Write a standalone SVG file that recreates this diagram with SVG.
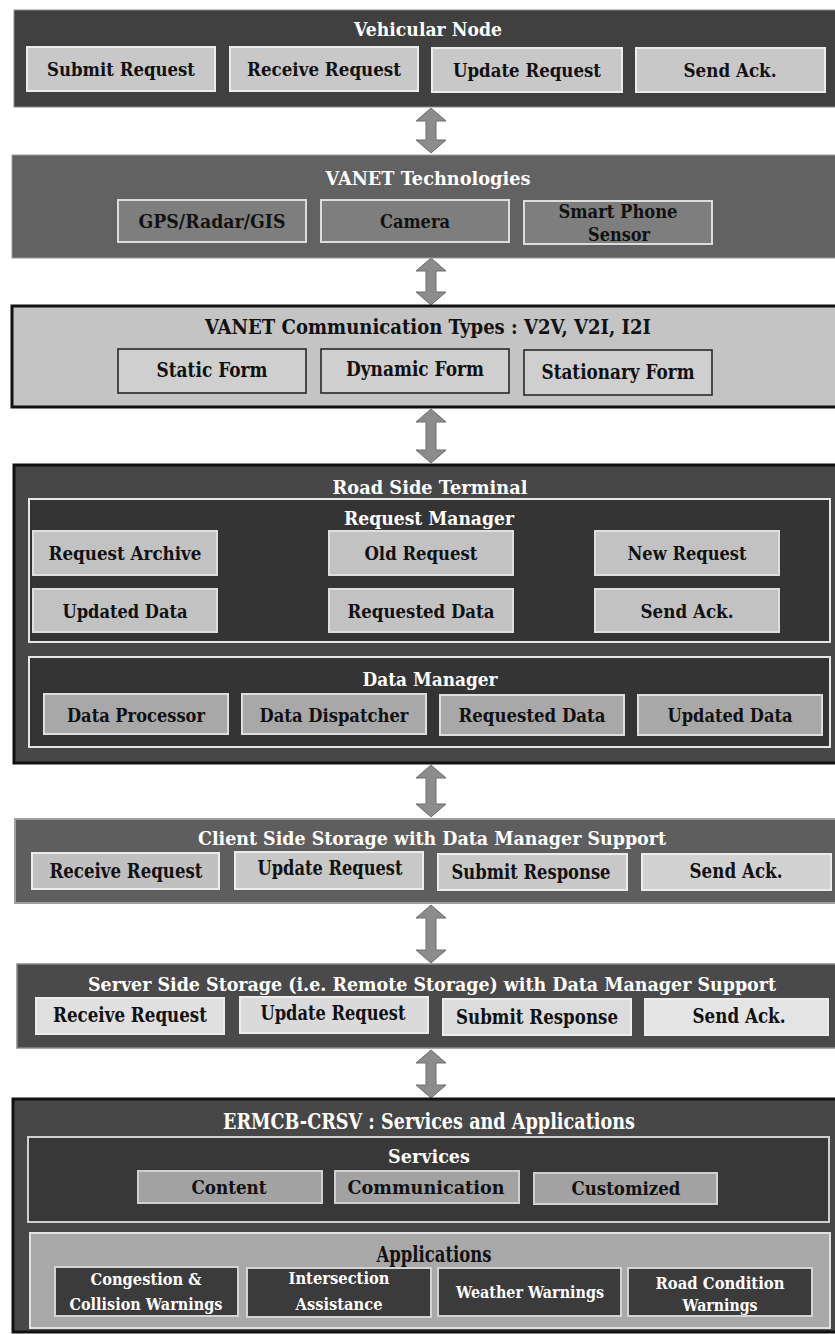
<svg xmlns="http://www.w3.org/2000/svg" width="835" height="1334" viewBox="0 0 835 1334">
<style>
  text { font-family: "DejaVu Serif", "Liberation Serif", serif; font-weight: bold; text-anchor: middle; }
  .t { font-size: 19px; fill: #ffffff; }
  .d { font-size: 19px; fill: #111111; }
  .w { font-size: 17px; fill: #ffffff; }
  .c { font-size: 20px; }
  .arrow { fill: #8c8c8c; stroke: #6e6e6e; stroke-width: 1; }
  .lbox { fill: #c8c8c8; stroke: #ececec; stroke-width: 2; }
  .gbox { fill: #7e7e7e; stroke: #dcdcdc; stroke-width: 2; }
  .cbox { fill: #cfcfcf; stroke: #1e1e1e; stroke-width: 1.5; }
  .rbox { fill: #c2c2c2; stroke: #dedede; stroke-width: 2; }
  .mbox { fill: #a8a8a8; stroke: #dedede; stroke-width: 2; }
  .inner { fill: #343434; stroke: #e6e6e6; stroke-width: 2; }
  .sbox { fill: #a2a2a2; stroke: #d0d0d0; stroke-width: 2; }
  .abox { fill: #3b3b3b; stroke: #d4d4d4; stroke-width: 2; }
</style>
<rect width="835" height="1334" fill="#ffffff"/>

<!-- connectors: double-headed block arrows between layers -->
<g id="connectors">
  <path class="arrow" d="M431,108 L446,121 L436,121 L436,140 L446,140 L431,153 L416,140 L426,140 L426,121 L416,121 Z"/>
  <path class="arrow" d="M431,258 L446,271 L436,271 L436,292 L446,292 L431,305 L416,292 L426,292 L426,271 L416,271 Z"/>
  <path class="arrow" d="M431,409 L446,422 L436,422 L436,450 L446,450 L431,463 L416,450 L426,450 L426,422 L416,422 Z"/>
  <path class="arrow" d="M431,765 L446,778 L436,778 L436,804 L446,804 L431,817 L416,804 L426,804 L426,778 L416,778 Z"/>
  <path class="arrow" d="M431,905 L446,918 L436,918 L436,950 L446,950 L431,963 L416,950 L426,950 L426,918 L416,918 Z"/>
  <path class="arrow" d="M431,1050 L446,1063 L436,1063 L436,1085 L446,1085 L431,1098 L416,1085 L426,1085 L426,1063 L416,1063 Z"/>
</g>

<!-- Vehicular Node -->
<g id="vehicular-node">
  <rect x="14" y="10" width="824" height="97" fill="#404040" stroke="#8a8a8a" stroke-width="1"/>
  <text class="t" x="428" y="36" textLength="148" lengthAdjust="spacingAndGlyphs">Vehicular Node</text>
  <g id="vn-submit"><rect class="lbox" x="27" y="47" width="188" height="44"/><text class="d" x="121" y="76" textLength="148" lengthAdjust="spacingAndGlyphs">Submit Request</text></g>
  <g id="vn-receive"><rect class="lbox" x="230" y="47" width="188" height="44"/><text class="d" x="324" y="76" textLength="154" lengthAdjust="spacingAndGlyphs">Receive Request</text></g>
  <g id="vn-update"><rect class="lbox" x="432" y="48" width="190" height="44"/><text class="d" x="527" y="77" textLength="148" lengthAdjust="spacingAndGlyphs">Update Request</text></g>
  <g id="vn-ack"><rect class="lbox" x="636" y="48" width="189" height="44"/><text class="d" x="730" y="77" textLength="93" lengthAdjust="spacingAndGlyphs">Send Ack.</text></g>
</g>

<!-- VANET Technologies -->
<g id="vanet-technologies">
  <rect x="12" y="155" width="826" height="103" fill="#626262" stroke="#9a9a9a" stroke-width="1"/>
  <text class="t" x="428" y="185" textLength="205" lengthAdjust="spacingAndGlyphs">VANET Technologies</text>
  <g id="vt-gps"><rect class="gbox" x="118" y="200" width="188" height="42"/><text class="d" x="212" y="228" textLength="147" lengthAdjust="spacingAndGlyphs">GPS/Radar/GIS</text></g>
  <g id="vt-camera"><rect class="gbox" x="321" y="200" width="188" height="42"/><text class="d" x="415" y="228" textLength="70" lengthAdjust="spacingAndGlyphs">Camera</text></g>
  <g id="vt-phone"><rect class="gbox" x="524" y="201" width="188" height="43"/>
    <text class="d" x="618" y="218" textLength="119" lengthAdjust="spacingAndGlyphs">Smart Phone</text>
    <text class="d" x="619" y="241" textLength="62" lengthAdjust="spacingAndGlyphs">Sensor</text></g>
</g>

<!-- VANET Communication Types -->
<g id="communication-types">
  <rect x="12" y="306" width="826" height="101" fill="#c4c4c4" stroke="#111111" stroke-width="3"/>
  <text class="d c" x="428" y="334" textLength="446" lengthAdjust="spacingAndGlyphs">VANET Communication Types : V2V, V2I, I2I</text>
  <g id="ct-static"><rect class="cbox" x="118" y="349" width="188" height="44"/><text class="d c" x="212" y="377" textLength="111" lengthAdjust="spacingAndGlyphs">Static Form</text></g>
  <g id="ct-dynamic"><rect class="cbox" x="321" y="349" width="188" height="44"/><text class="d c" x="415" y="376" textLength="138" lengthAdjust="spacingAndGlyphs">Dynamic Form</text></g>
  <g id="ct-stationary"><rect class="cbox" x="524" y="350" width="188" height="45"/><text class="d c" x="618" y="379" textLength="153" lengthAdjust="spacingAndGlyphs">Stationary Form</text></g>
</g>

<!-- Road Side Terminal -->
<g id="road-side-terminal">
  <rect x="14" y="465" width="824" height="298" fill="#474747" stroke="#111111" stroke-width="3"/>
  <text class="t" x="430" y="494" textLength="195" lengthAdjust="spacingAndGlyphs">Road Side Terminal</text>
  <g id="request-manager">
    <rect class="inner" x="29" y="499" width="801" height="143"/>
    <text class="t" x="429" y="525" textLength="170" lengthAdjust="spacingAndGlyphs">Request Manager</text>
    <g id="rm-archive"><rect class="rbox" x="33" y="531" width="184" height="44"/><text class="d" x="125" y="560" textLength="153" lengthAdjust="spacingAndGlyphs">Request Archive</text></g>
    <g id="rm-old"><rect class="rbox" x="329" y="531" width="184" height="44"/><text class="d" x="421" y="560" textLength="113" lengthAdjust="spacingAndGlyphs">Old Request</text></g>
    <g id="rm-new"><rect class="rbox" x="595" y="531" width="184" height="44"/><text class="d" x="687" y="560" textLength="119" lengthAdjust="spacingAndGlyphs">New Request</text></g>
    <g id="rm-updated"><rect class="rbox" x="33" y="589" width="184" height="43"/><text class="d" x="125" y="618" textLength="125" lengthAdjust="spacingAndGlyphs">Updated Data</text></g>
    <g id="rm-requested"><rect class="rbox" x="329" y="589" width="184" height="43"/><text class="d" x="421" y="618" textLength="147" lengthAdjust="spacingAndGlyphs">Requested Data</text></g>
    <g id="rm-ack"><rect class="rbox" x="595" y="589" width="184" height="43"/><text class="d" x="687" y="618" textLength="93" lengthAdjust="spacingAndGlyphs">Send Ack.</text></g>
  </g>
  <g id="data-manager">
    <rect class="inner" x="29" y="657" width="801" height="90"/>
    <text class="t" x="430" y="686" textLength="135" lengthAdjust="spacingAndGlyphs">Data Manager</text>
    <g id="dm-processor"><rect class="mbox" x="44" y="694" width="184" height="40"/><text class="d" x="136" y="722" textLength="138" lengthAdjust="spacingAndGlyphs">Data Processor</text></g>
    <g id="dm-dispatcher"><rect class="mbox" x="242" y="694" width="184" height="40"/><text class="d" x="334" y="722" textLength="149" lengthAdjust="spacingAndGlyphs">Data Dispatcher</text></g>
    <g id="dm-requested"><rect class="mbox" x="440" y="695" width="184" height="40"/><text class="d" x="532" y="722" textLength="147" lengthAdjust="spacingAndGlyphs">Requested Data</text></g>
    <g id="dm-updated"><rect class="mbox" x="638" y="695" width="184" height="40"/><text class="d" x="730" y="722" textLength="125" lengthAdjust="spacingAndGlyphs">Updated Data</text></g>
  </g>
</g>

<!-- Client Side Storage -->
<g id="client-side-storage">
  <rect x="15" y="819" width="823" height="84" fill="#5e5e5e" stroke="#a0a0a0" stroke-width="2"/>
  <text class="t" x="432" y="845" textLength="468" lengthAdjust="spacingAndGlyphs">Client Side Storage with Data Manager Support</text>
  <g id="cs-receive"><rect class="lbox" x="32" y="853" width="187" height="36" style="fill:#c0c0c0"/><text class="d c" x="126" y="878" textLength="153" lengthAdjust="spacingAndGlyphs">Receive Request</text></g>
  <g id="cs-update"><rect class="lbox" x="235" y="852" width="188" height="37"/><text class="d c" x="330" y="875" textLength="145" lengthAdjust="spacingAndGlyphs">Update Request</text></g>
  <g id="cs-submit"><rect class="lbox" x="438" y="854" width="189" height="36"/><text class="d c" x="531" y="879" textLength="159" lengthAdjust="spacingAndGlyphs">Submit Response</text></g>
  <g id="cs-ack"><rect class="lbox" x="642" y="854" width="189" height="36" style="fill:#d2d2d2"/><text class="d c" x="736" y="878" textLength="93" lengthAdjust="spacingAndGlyphs">Send Ack.</text></g>
</g>

<!-- Server Side Storage -->
<g id="server-side-storage">
  <rect x="17" y="964" width="821" height="84" fill="#4a4a4a" stroke="#8a8a8a" stroke-width="1.5"/>
  <text class="t" x="432" y="991" textLength="688" lengthAdjust="spacingAndGlyphs">Server Side Storage (i.e. Remote Storage) with Data Manager Support</text>
  <g id="ss-receive"><rect class="lbox" x="36" y="998" width="188" height="36" style="fill:#e0e0e0"/><text class="d c" x="130" y="1022" textLength="154" lengthAdjust="spacingAndGlyphs">Receive Request</text></g>
  <g id="ss-update"><rect class="lbox" x="240" y="997" width="188" height="36" style="fill:#dadada"/><text class="d c" x="333" y="1020" textLength="145" lengthAdjust="spacingAndGlyphs">Update Request</text></g>
  <g id="ss-submit"><rect class="lbox" x="443" y="999" width="188" height="36" style="fill:#dcdcdc"/><text class="d c" x="537" y="1024" textLength="162" lengthAdjust="spacingAndGlyphs">Submit Response</text></g>
  <g id="ss-ack"><rect class="lbox" x="645" y="999" width="183" height="36" style="fill:#e4e4e4"/><text class="d c" x="739" y="1023" textLength="93" lengthAdjust="spacingAndGlyphs">Send Ack.</text></g>
</g>

<!-- ERMCB-CRSV Services and Applications -->
<g id="ermcb-crsv">
  <rect x="13" y="1099" width="825" height="233" fill="#474747" stroke="#111111" stroke-width="3"/>
  <text class="t" x="429" y="1129" style="font-size:22px" textLength="412" lengthAdjust="spacingAndGlyphs">ERMCB-CRSV : Services and Applications</text>
  <g id="services">
    <rect x="28" y="1137" width="801" height="85" fill="#383838" stroke="#d0d0d0" stroke-width="2"/>
    <text class="t" x="429" y="1163" textLength="82" lengthAdjust="spacingAndGlyphs">Services</text>
    <g id="sv-content"><rect class="sbox" x="138" y="1171" width="184" height="32"/><text class="d" x="229" y="1194" textLength="75" lengthAdjust="spacingAndGlyphs">Content</text></g>
    <g id="sv-communication"><rect class="sbox" x="335" y="1171" width="184" height="32"/><text class="d" x="426" y="1194" textLength="157" lengthAdjust="spacingAndGlyphs">Communication</text></g>
    <g id="sv-customized"><rect class="sbox" x="534" y="1173" width="183" height="31"/><text class="d" x="626" y="1195" textLength="109" lengthAdjust="spacingAndGlyphs">Customized</text></g>
  </g>
  <g id="applications">
    <rect x="30" y="1233" width="800" height="95" fill="#a8a8a8" stroke="#e2e2e2" stroke-width="2"/>
    <text class="d" x="434" y="1262" style="font-size:22px" textLength="115" lengthAdjust="spacingAndGlyphs">Applications</text>
    <g id="ap-congestion"><rect class="abox" x="55" y="1267" width="183" height="49"/>
      <text class="w" x="146" y="1285" textLength="111" lengthAdjust="spacingAndGlyphs">Congestion &amp;</text>
      <text class="w" x="146" y="1310" textLength="153" lengthAdjust="spacingAndGlyphs">Collision Warnings</text></g>
    <g id="ap-intersection"><rect class="abox" x="247" y="1268" width="184" height="49"/>
      <text class="w" x="339" y="1284" textLength="101" lengthAdjust="spacingAndGlyphs">Intersection</text>
      <text class="w" x="339" y="1310" textLength="87" lengthAdjust="spacingAndGlyphs">Assistance</text></g>
    <g id="ap-weather"><rect class="abox" x="438" y="1268" width="183" height="48"/>
      <text class="w" x="530" y="1298" style="font-size:16px" textLength="148" lengthAdjust="spacingAndGlyphs">Weather Warnings</text></g>
    <g id="ap-road"><rect class="abox" x="628" y="1268" width="184" height="48"/>
      <text class="w" x="720" y="1289" textLength="129" lengthAdjust="spacingAndGlyphs">Road Condition</text>
      <text class="w" x="720" y="1311" textLength="75" lengthAdjust="spacingAndGlyphs">Warnings</text></g>
  </g>
</g>
</svg>
